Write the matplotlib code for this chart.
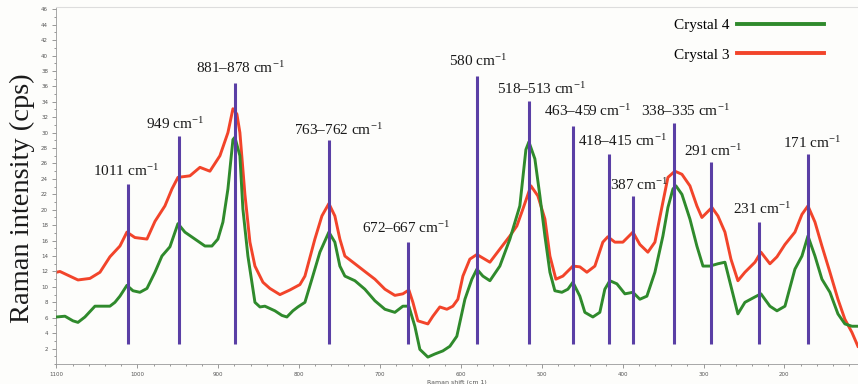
import numpy as np
import matplotlib
matplotlib.use('Agg')
import matplotlib.pyplot as plt
from matplotlib.ticker import MultipleLocator

plt.rcParams['mathtext.fontset'] = 'stix'

# Raman spectra (shift in cm-1, intensity in cps)
crystal3_shift = [1100, 1095.7, 1073.4, 1058.6, 1046.2, 1033.9, 1021.5, 1012.9, 1003.0, 988.1,
                  978.2, 965.9, 957.2, 949.8, 935.0, 922.6, 910.3, 897.9, 888.0, 881.8,
                  876.9, 873.2, 867.0, 860.8, 854.6, 844.7, 836.1, 823.7, 811.4, 799.0,
                  792.8, 780.5, 771.8, 763.2, 755.8, 749.6, 743.4, 731.0, 718.7, 706.3,
                  693.9, 681.6, 671.7, 664.3, 659.3, 653.2, 640.8, 634.6, 626.0, 617.3,
                  609.9, 603.7, 597.5, 588.9, 580.2, 564.1, 551.8, 539.4, 530.8, 523.3,
                  513.4, 504.8, 496.1, 489.9, 482.5, 473.9, 461.5, 452.9, 444.2, 434.3,
                  424.5, 418.3, 409.6, 399.7, 387.3, 378.7, 368.8, 360.1, 350.2, 344.0,
                  335.4, 326.7, 316.8, 308.2, 302.0, 289.6, 282.2, 273.5, 266.1, 257.5,
                  248.8, 236.4, 229.0, 217.9, 209.2, 199.3, 187.0, 178.3, 170.9, 162.2,
                  153.6, 143.7, 133.8, 125.2, 116.5, 109.1]
crystal3_int = [11.9, 12.0, 10.9, 11.1, 11.9, 13.9, 15.3, 17.1, 16.4, 16.2,
                18.5, 20.5, 22.7, 24.2, 24.4, 25.5, 25.0, 27.0, 30.0, 33.1,
                32.4, 30.0, 22.0, 15.8, 12.7, 10.6, 9.8, 9.0, 9.6, 10.3,
                11.4, 16.2, 19.2, 20.8, 19.2, 16.2, 14.0, 13.0, 12.0, 11.0,
                9.7, 8.9, 9.1, 9.6, 8.0, 5.6, 5.2, 6.2, 7.4, 7.1,
                7.5, 8.4, 11.4, 13.6, 14.2, 13.2, 14.9, 16.6, 17.9, 20.1,
                23.1, 21.8, 18.8, 14.0, 11.0, 11.4, 12.7, 12.6, 11.9, 12.7,
                15.8, 16.5, 15.8, 15.8, 17.1, 15.5, 14.5, 15.8, 21.0, 24.2,
                25.0, 24.6, 23.1, 20.5, 19.0, 20.3, 19.2, 17.1, 13.6, 10.8,
                11.9, 13.2, 14.5, 13.0, 13.9, 15.5, 17.1, 19.4, 20.5, 18.4,
                15.3, 11.9, 8.4, 5.8, 4.1, 2.3]

crystal4_shift = [1100, 1089.5, 1079.6, 1073.4, 1064.8, 1052.4, 1040.0, 1033.9, 1027.7, 1021.5,
                  1012.9, 1005.4, 996.8, 988.1, 978.2, 969.6, 959.7, 949.8, 941.2, 928.8,
                  916.4, 907.8, 900.4, 894.2, 888.0, 881.8, 879.4, 873.2, 869.5, 863.3,
                  854.6, 848.4, 842.3, 829.9, 821.2, 815.1, 807.7, 801.5, 792.8, 784.2,
                  774.3, 763.2, 755.8, 749.6, 743.4, 731.0, 718.7, 706.3, 693.9, 681.6,
                  671.7, 664.3, 656.9, 650.7, 640.8, 632.2, 622.3, 613.6, 605.0, 595.0,
                  586.4, 580.2, 572.8, 564.1, 551.8, 539.4, 527.1, 519.6, 515.9, 508.5,
                  502.3, 496.1, 489.9, 483.8, 475.1, 467.7, 461.5, 452.9, 446.7, 436.8,
                  428.2, 422.0, 415.8, 407.1, 397.2, 387.3, 378.7, 370.0, 360.1, 350.2,
                  344.0, 337.8, 334.1, 326.7, 316.8, 308.2, 300.7, 292.1, 282.2, 273.5,
                  266.1, 257.5, 248.8, 236.4, 229.0, 217.9, 209.2, 199.3, 187.0, 178.3,
                  170.9, 162.2, 153.6, 143.7, 133.8, 125.2, 116.5, 109.1]
crystal4_int = [6.1, 6.2, 5.6, 5.4, 6.1, 7.5, 7.5, 7.5, 8.0, 8.8,
                10.2, 9.5, 9.3, 9.8, 11.9, 14.0, 15.2, 18.2, 17.1, 16.2,
                15.3, 15.3, 16.2, 18.4, 22.7, 29.1, 29.4, 27.0, 20.1, 14.0,
                8.0, 7.4, 7.5, 6.9, 6.3, 6.1, 6.9, 7.4, 8.0, 11.0,
                14.5, 17.1, 15.8, 12.7, 11.4, 10.8, 9.7, 8.2, 7.1, 6.7,
                7.5, 7.5, 4.9, 1.9, 0.9, 1.3, 1.7, 2.3, 3.6, 8.4,
                11.0, 12.3, 11.4, 10.8, 12.7, 16.2, 20.5, 27.8, 28.8, 26.6,
                21.8, 16.6, 11.9, 9.5, 9.3, 9.7, 10.6, 8.8, 6.7, 6.1,
                6.7, 9.7, 10.8, 10.4, 9.1, 9.3, 8.4, 8.8, 11.9, 16.6,
                20.3, 22.7, 23.1, 22.0, 18.8, 15.3, 12.7, 12.7, 13.0, 13.2,
                10.1, 6.5, 8.0, 8.7, 9.1, 7.5, 6.9, 7.5, 12.3, 14.0,
                16.6, 14.0, 11.0, 9.3, 6.5, 5.2, 4.9, 4.9]

# assigned bands: marker position, marker height, label
band_pos = [1011, 949, 879.5, 762.5, 665, 580, 515.5, 461, 416.5, 387, 336.5, 291, 231, 171]
band_top = [23.3, 29.5, 36.5, 29.1, 15.8, 37.4, 34.1, 30.8, 27.2, 21.8, 31.3, 26.2, 18.4, 27.2]
band_labels = ['1011', '949', '881\u2013878', '763\u2013762', '672\u2013667', '580', '518\u2013513',
               '463\u2013459', '418\u2013415', '387', '338\u2013335', '291', '231', '171']
band_bottom = 2.6

# label anchor points (centre of each text)
label_xy = [(1014, 25.1), (953, 31.1), (872, 38.4), (751, 30.4), (667, 17.7), (579, 39.3),
            (501, 35.7), (443, 32.9), (400, 29.0), (379, 23.2), (323, 32.9), (288.6, 27.6),
            (227, 20.1), (166, 28.7)]

fig = plt.figure(figsize=(8.58, 3.84), dpi=100, facecolor='#fdfdfb')
ax = fig.add_axes([0.0658, 0.052, 0.9342, 0.930])
ax.set_facecolor('#fdfdfb')

ax.plot(crystal4_shift, crystal4_int, color='#2f8a2c', linewidth=2.1, label='Crystal 4', zorder=3)
ax.plot(crystal3_shift, crystal3_int, color='#f2442a', linewidth=2.1, label='Crystal 3', zorder=2)

ax.vlines(band_pos, band_bottom, band_top, color='#5a3fa5', linewidth=2.2, zorder=4)

for (lx, ly), lab in zip(label_xy, band_labels):
    ax.text(lx, ly, lab + r' cm$^{\mathregular{-1}}$', ha='center', va='center',
            fontsize=11, family='Liberation Serif', color='#1a1a1a', zorder=6)

ax.set_xlim(1100, 109)
ax.set_ylim(0, 46.3)

ax.xaxis.set_major_locator(MultipleLocator(100))
ax.xaxis.set_minor_locator(MultipleLocator(20))
ax.yaxis.set_major_locator(MultipleLocator(2))
ax.yaxis.set_minor_locator(MultipleLocator(1))
ax.set_yticks(np.arange(2, 47, 2))
ax.tick_params(axis='both', which='both', colors='#888888', labelcolor='#555555',
               labelsize=4, width=0.6)
ax.tick_params(axis='both', which='major', length=3, pad=3)
ax.tick_params(axis='both', which='minor', length=1.5)

ax.spines['right'].set_visible(False)
ax.spines['top'].set_color('#dddddd')
ax.spines['top'].set_linewidth(0.8)
ax.spines['left'].set_color('#999999')
ax.spines['left'].set_linewidth(0.6)
ax.spines['bottom'].set_color('#999999')
ax.spines['bottom'].set_linewidth(0.6)

ax.set_xlabel('Raman shift (cm 1)', fontsize=4.5, color='#555555', labelpad=2)

fig.text(0.026, 0.485, 'Raman intensity (cps)', rotation=90, ha='center', va='center',
         fontsize=20.5, family='Liberation Serif', color='#1a1a1a')

leg = ax.legend(loc='upper right', bbox_to_anchor=(0.958, 0.968), frameon=False,
                markerfirst=False, handlelength=5.7, handletextpad=0.5,
                borderpad=0, borderaxespad=0, labelspacing=1.05,
                prop={'family': 'Liberation Serif', 'size': 11})
for line in leg.get_lines():
    line.set_linewidth(2.8)

fig.savefig('out.png', dpi=100, facecolor=fig.get_facecolor())
